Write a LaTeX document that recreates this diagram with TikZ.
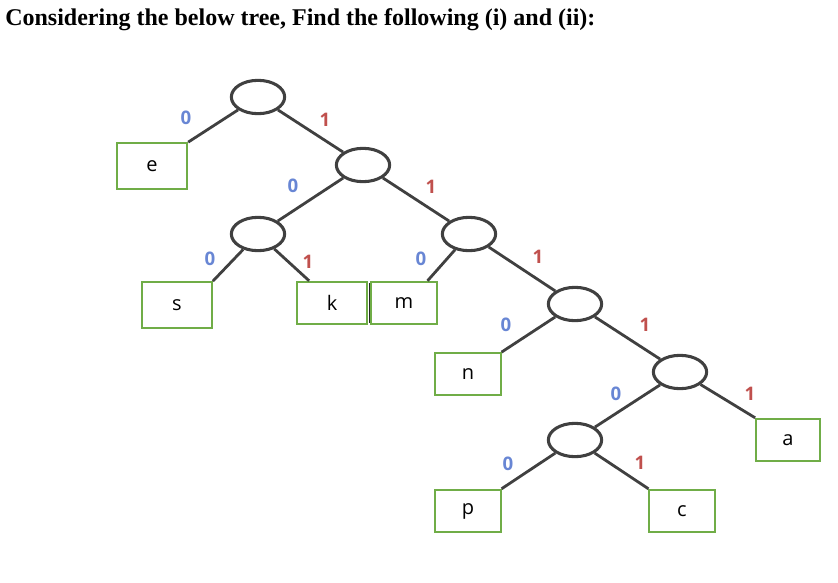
\documentclass[tikz,border=0pt]{standalone}
\usepackage{fontspec}
\setmainfont{Liberation Serif}
\setsansfont{Open Sans}
\usetikzlibrary{shapes.geometric,positioning,calc}
\definecolor{leafgreen}{RGB}{112,173,71}
\definecolor{edgegray}{RGB}{64,64,64}
\definecolor{zeroblue}{RGB}{104,134,212}
\definecolor{onered}{RGB}{192,80,77}
\tikzset{
    innernode/.style={
        ellipse,
        draw=edgegray,
        line width=2.3pt,
        minimum width=40pt,
        minimum height=25pt,
        inner sep=0pt
    },
    leafnode/.style={
        rectangle,
        draw=leafgreen,
        line width=1.3pt,
        minimum width=49pt,
        minimum height=31.5pt,
        font=\sffamily\fontsize{15}{15}\selectfont,
        text centered
    },
    branch/.style={
        edgegray,
        line width=2.1pt
    },
    zerolabel/.style={
        text=zeroblue,
        font=\sffamily\bfseries\fontsize{14}{14}\selectfont
    },
    onelabel/.style={
        text=onered,
        font=\sffamily\bfseries\fontsize{14}{14}\selectfont
    }
}
\begin{document}
\begin{tikzpicture}[x=0.75pt,y=-0.75pt]
        \useasboundingbox (0,0) rectangle (838,582);
        % Title
        \node[anchor=west,inner sep=0pt,font=\bfseries\fontsize{18}{21}\selectfont] (title) at (5,20) {Considering the below tree, Find the following (i) and (ii):};

        % Internal nodes
        \node[innernode] (root) at (258,97) {};
        \node[innernode] (n1) at (363,165) {};
        \node[innernode] (n2) at (258,234) {};
        \node[innernode] (n3) at (469,234) {};
        \node[innernode] (n4) at (575,304) {};
        \node[innernode] (n5) at (680,372) {};
        \node[innernode] (n6) at (575,440) {};

        % Leaf nodes
        \node[leafnode,minimum width=53pt,minimum height=34.5pt] (e) at (152,166) {e};
        \node[leafnode,minimum width=52.5pt,minimum height=34.5pt] (s) at (177,305) {s};
        \node[leafnode,minimum width=52.5pt,minimum height=32pt] (k) at (332,303) {k};
        \node[leafnode,minimum height=32pt] (m) at (404,303) {m};
        \node[leafnode] (n) at (468,374) {n};
        \node[leafnode,minimum width=48pt,minimum height=32pt] (a) at (788,440) {a};
        \node[leafnode,minimum height=32pt] (p) at (468,511) {p};
        \node[leafnode,minimum height=32pt] (c) at (682,511) {c};

        % Bar between k and m
        \node[fill=black!85,inner sep=0pt,minimum width=1.4pt,minimum height=30pt] (bar) at (369.5,303) {};

        % Branches
        \draw[branch] (root) -- (e.north east);
        \draw[branch] (root) -- (n1);
        \draw[branch] (n1) -- (n2);
        \draw[branch] (n1) -- (n3);
        \draw[branch] (n2) -- (s.north east);
        \draw[branch] (n2) -- ($(k.north west)+(13,0)$);
        \draw[branch] (n3) -- ($(m.north east)+(-10,0)$);
        \draw[branch] (n3) -- (n4);
        \draw[branch] (n4) -- (n.north east);
        \draw[branch] (n4) -- (n5);
        \draw[branch] (n5) -- (n6);
        \draw[branch] (n5) -- (a.north west);
        \draw[branch] (n6) -- (p.north east);
        \draw[branch] (n6) -- (c.north west);

        % Branch labels
        \node[zerolabel] (b0e) at (186,118) {0};
        \node[onelabel] (b1n1) at (325,120) {1};
        \node[zerolabel] (b0n2) at (293,186) {0};
        \node[onelabel] (b1n3) at (431,187) {1};
        \node[zerolabel] (b0s) at (210,259) {0};
        \node[onelabel] (b1k) at (308,262) {1};
        \node[zerolabel] (b0m) at (421,259) {0};
        \node[onelabel] (b1n4) at (538,257) {1};
        \node[zerolabel] (b0n) at (506,325) {0};
        \node[onelabel] (b1n5) at (645,325) {1};
        \node[zerolabel] (b0n6) at (616,394) {0};
        \node[onelabel] (b1a) at (750,394) {1};
        \node[zerolabel] (b0p) at (508,464) {0};
        \node[onelabel] (b1c) at (640,463) {1};
    \end{tikzpicture}
\end{document}
